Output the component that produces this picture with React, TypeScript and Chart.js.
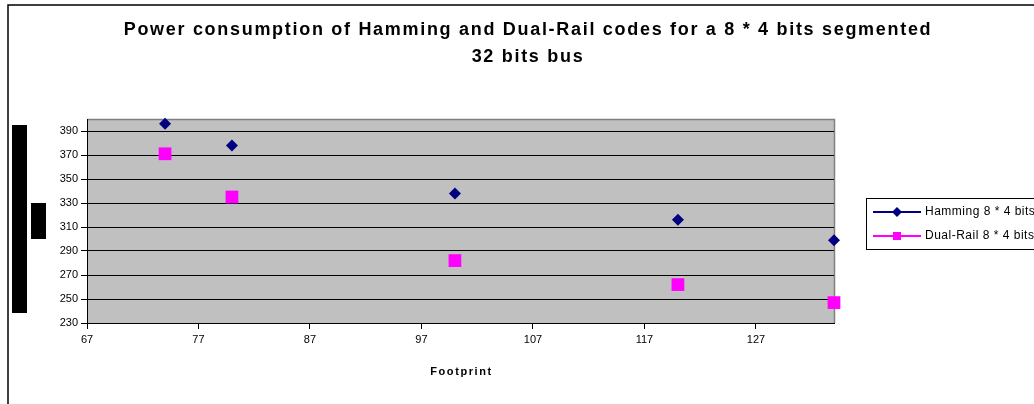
import React, { useEffect, useRef } from "react";
import { Chart, registerables } from "chart.js";

Chart.register(...registerables);

// Footprint (x) against power consumption (y) for each code
const footprint = [74, 80, 100, 120, 134];
const hammingPower = [396, 378, 338, 316, 299];
const dualRailPower = [371, 335, 282, 262, 247];

const seriesNames = ["Hamming 8 * 4 bits", "Dual-Rail 8 * 4 bits"];
const xTicks = [67, 77, 87, 97, 107, 117, 127];
const yTicks = [230, 250, 270, 290, 310, 330, 350, 370, 390];
const titleLines = [
  "Power consumption of Hamming and Dual-Rail codes for a 8 * 4 bits segmented",
  "32 bits bus",
];
const xTitle = "Footprint";

const FONT = '"Liberation Sans", Arial, sans-serif';
const NAVY = "#000080";
const MAGENTA = "#FF00FF";

// Gray plot background with a darker frame on the top and right edges
const plotBackground = {
  id: "plotBackground",
  beforeDraw(chart: any) {
    const { ctx, chartArea: a } = chart;
    ctx.save();
    ctx.fillStyle = "#fff";
    ctx.fillRect(0, 0, chart.width, chart.height);
    ctx.fillStyle = "#C0C0C0";
    ctx.fillRect(a.left, a.top, a.right - a.left, a.bottom - a.top);
    ctx.strokeStyle = "#808080";
    ctx.lineWidth = 1.5;
    ctx.beginPath();
    ctx.moveTo(a.left, a.top + 0.5);
    ctx.lineTo(a.right + 0.5, a.top + 0.5);
    ctx.lineTo(a.right + 0.5, a.bottom);
    ctx.stroke();
    ctx.restore();
  },
};

// Outer frame, titles, legend and the masked axis caption
const decorations = {
  id: "decorations",
  afterDraw(chart: any) {
    const { ctx, chartArea: a } = chart;
    ctx.save();

    // outer frame of the chart object
    ctx.strokeStyle = "#000";
    ctx.lineWidth = 1.5;
    ctx.strokeRect(8, 5, chart.width + 20, chart.height + 20);

    // chart title
    ctx.fillStyle = "#000";
    ctx.font = `bold 18px ${FONT}`;
    (ctx as any).letterSpacing = "1.7px";
    ctx.textAlign = "center";
    ctx.textBaseline = "middle";
    ctx.fillText(titleLines[0], 528, 30);
    ctx.fillText(titleLines[1], 528, 57);

    // x-axis title, centred under the plot area
    ctx.font = `bold 11px ${FONT}`;
    (ctx as any).letterSpacing = "1.6px";
    ctx.fillText(xTitle, (a.left + a.right) / 2 + 1, 372);
    (ctx as any).letterSpacing = "0px";

    // masked y-axis caption
    ctx.fillStyle = "#000";
    ctx.fillRect(12, 125, 15, 188);
    ctx.fillRect(31, 203, 15, 36);

    // legend
    ctx.strokeStyle = "#000";
    ctx.lineWidth = 1;
    ctx.fillStyle = "#fff";
    ctx.fillRect(866.5, 198.5, 200, 51);
    ctx.strokeRect(866.5, 198.5, 200, 51);
    const rows = [212, 236];
    chart.data.datasets.forEach((ds: any, i: number) => {
      const y = rows[i];
      ctx.strokeStyle = ds.borderColor;
      ctx.lineWidth = 2;
      ctx.beginPath();
      ctx.moveTo(873, y);
      ctx.lineTo(921, y);
      ctx.stroke();
      ctx.fillStyle = ds.backgroundColor;
      ctx.beginPath();
      if (ds.pointStyle === "rectRot") {
        ctx.moveTo(897, y - 5);
        ctx.lineTo(902, y);
        ctx.lineTo(897, y + 5);
        ctx.lineTo(892, y);
        ctx.closePath();
      } else {
        ctx.rect(893, y - 4, 8, 8);
      }
      ctx.fill();
      ctx.fillStyle = "#000";
      ctx.font = `12px ${FONT}`;
      (ctx as any).letterSpacing = "0.5px";
      ctx.textAlign = "left";
      ctx.textBaseline = "middle";
      ctx.fillText(ds.label, 925, y);
      (ctx as any).letterSpacing = "0px";
    });
    ctx.restore();
  },
};

export default function App() {
  const canvasRef = useRef<HTMLCanvasElement | null>(null);

  useEffect(() => {
    if (!canvasRef.current) return;
    const chart = new Chart(canvasRef.current, {
      type: "scatter",
      data: {
        datasets: [
          {
            label: seriesNames[0],
            data: footprint.map((x, i) => ({ x, y: hammingPower[i] })),
            pointStyle: "rectRot",
            pointRadius: 6,
            borderWidth: 0,
            backgroundColor: NAVY,
            borderColor: NAVY,
            showLine: false,
            clip: false,
          },
          {
            label: seriesNames[1],
            data: footprint.map((x, i) => ({ x, y: dualRailPower[i] })),
            pointStyle: "rect",
            pointRadius: 9,
            borderWidth: 0,
            backgroundColor: MAGENTA,
            borderColor: MAGENTA,
            showLine: false,
            clip: false,
          },
        ],
      },
      options: {
        responsive: false,
        animation: false,
        devicePixelRatio: 1,
        layout: { padding: { left: 0, right: 200, top: 119, bottom: 0 } },
        plugins: {
          legend: { display: false },
          title: { display: false },
          tooltip: { enabled: false },
        },
        scales: {
          x: {
            type: "linear",
            min: 67,
            max: 134,
            afterBuildTicks: (s: any) => {
              s.ticks = xTicks.map((v) => ({ value: v }));
            },
            afterFit: (s: any) => {
              s.height = 81;
            },
            grid: {
              drawOnChartArea: false,
              tickLength: 6,
              tickColor: "#000",
              color: "#000",
            },
            border: { color: "#000", width: 1 },
            ticks: {
              color: "#000",
              font: { family: FONT, size: 11 },
              padding: 4,
              maxRotation: 0,
              autoSkip: false,
            },
          },
          y: {
            type: "linear",
            min: 230,
            max: 400,
            afterBuildTicks: (s: any) => {
              s.ticks = yTicks.map((v) => ({ value: v }));
            },
            afterFit: (s: any) => {
              s.width = 87;
            },
            grid: {
              color: "#000",
              lineWidth: 1,
              tickLength: 6,
              tickColor: "#000",
            },
            border: { color: "#000", width: 1 },
            ticks: {
              color: "#000",
              font: { family: FONT, size: 11 },
              padding: 3,
            },
          },
        },
      },
      plugins: [plotBackground, decorations],
    });
    return () => chart.destroy();
  }, []);

  return (
    <div style={{ position: "absolute", left: 0, top: 0, width: 1034, height: 404 }}>
      <canvas ref={canvasRef} width={1034} height={404} />
    </div>
  );
}
